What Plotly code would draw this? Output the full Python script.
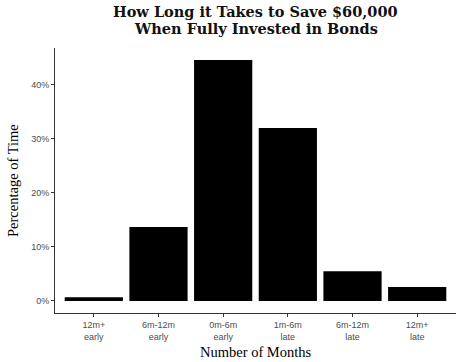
import plotly.graph_objects as go

categories = ["12m+<br>early", "6m-12m<br>early", "0m-6m<br>early", "1m-6m<br>late", "6m-12m<br>late", "12m+<br>late"]
values = [0.7, 13.7, 44.6, 32.0, 5.5, 2.6]
tick_vals = [0, 10, 20, 30, 40]
tick_text = ["0%", "10%", "20%", "30%", "40%"]

x_pos = list(range(1, len(categories) + 1))

fig = go.Figure(go.Bar(x=x_pos, y=values, width=0.9, marker=dict(color="black", line=dict(width=0)),
                       hoverinfo="skip"))

serif = "Liberation Serif"
title_font = "DejaVu Serif"
plot_l, plot_r, plot_t, plot_b = 55, 456, 48, 313

def px_x(x):
    return (x - plot_l) / (plot_r - plot_l)

def px_y(y):
    return (plot_b - y) / (plot_b - plot_t)

fig.update_layout(
    width=464, height=362,
    margin=dict(l=plot_l, r=464 - plot_r, t=plot_t, b=362 - plot_b, autoexpand=False),
    paper_bgcolor="white", plot_bgcolor="white",
    showlegend=False,
    annotations=[
        dict(text="<b>How Long it Takes to Save $60,000</b>", x=0.5, y=px_y(11),
             font=dict(family=title_font, size=14.5, color="#111111")),
        dict(text="<b>When Fully Invested in Bonds</b>", x=0.5, y=px_y(28.5),
             font=dict(family=title_font, size=14.5, color="#111111")),
        dict(text="Number of Months", x=0.5, y=px_y(352),
             font=dict(family=serif, size=14.5, color="black")),
        dict(text="Percentage of Time", x=px_x(13), y=px_y(181), textangle=-90,
             font=dict(family=serif, size=14.5, color="black")),
    ],
)
fig.update_annotations(xref="paper", yref="paper", showarrow=False, xanchor="center", yanchor="middle")

fig.update_xaxes(
    range=[0.4, 6.6], tickvals=x_pos, ticktext=categories,
    showline=True, linecolor="#333333", linewidth=1,
    ticks="outside", ticklen=3, tickcolor="#333333",
    showgrid=False, zeroline=False, automargin=False, fixedrange=True,
    tickfont=dict(family="Liberation Sans", size=9, color="#4d4d4d"),
)
fig.update_yaxes(
    range=[-2.23, 46.8], tickvals=tick_vals, ticktext=tick_text,
    showline=True, linecolor="#333333", linewidth=1,
    ticks="outside", ticklen=3, tickcolor="#333333",
    showgrid=False, zeroline=False, automargin=False, fixedrange=True,
    tickfont=dict(family="Liberation Sans", size=9, color="#4d4d4d"),
)
fig.write_html("out.html", config={"displayModeBar": False},
               post_script="document.body.style.margin='0px';")
